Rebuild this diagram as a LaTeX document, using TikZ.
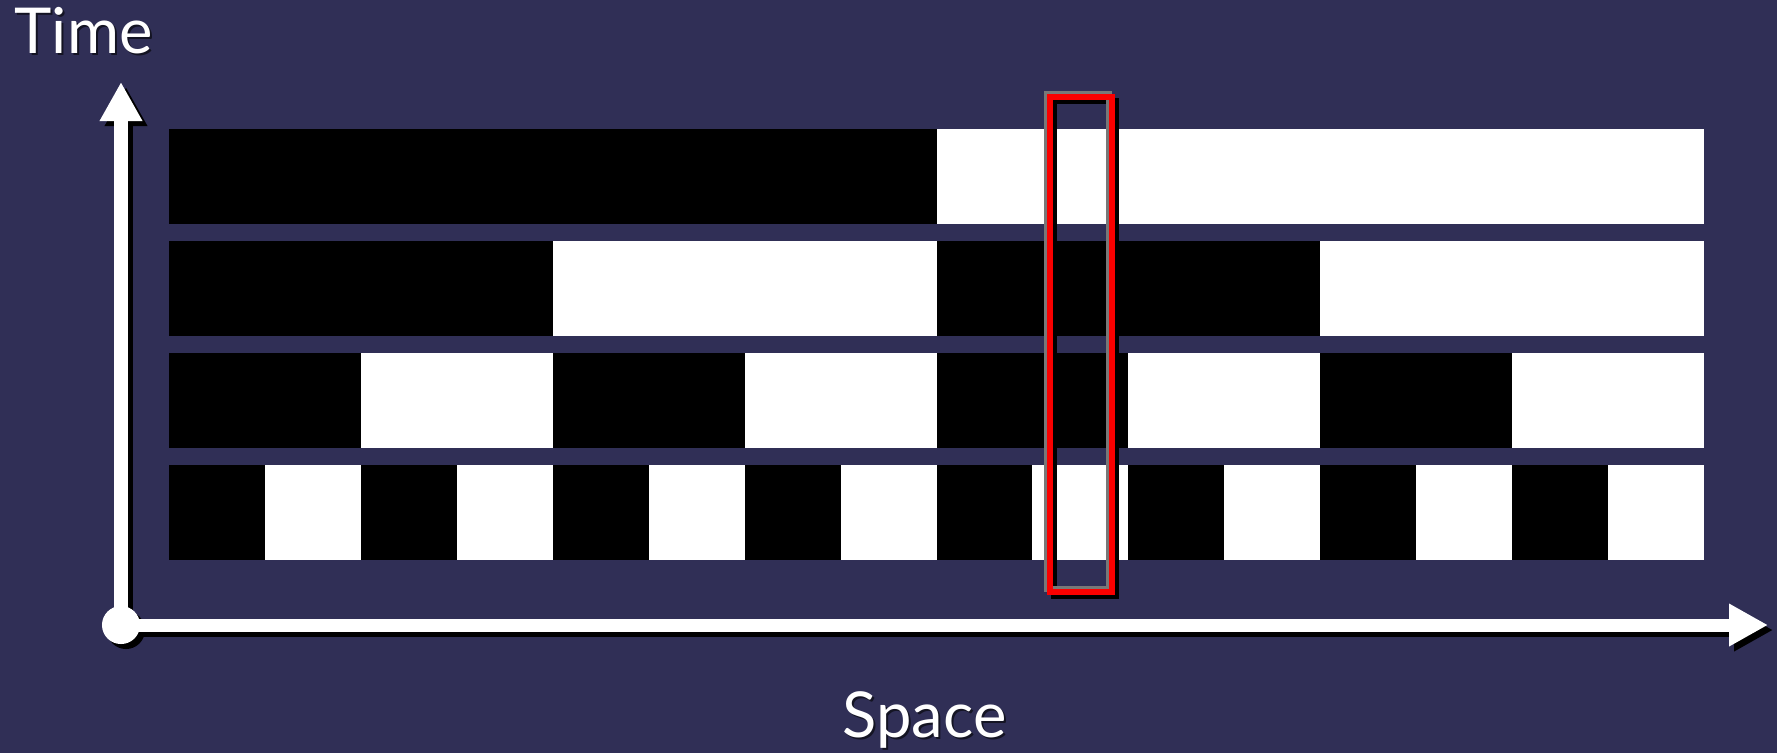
\documentclass[tikz,border=0pt]{standalone}
\usepackage{fontspec}
\setmainfont{Lato}
\usetikzlibrary{arrows.meta}
\definecolor{bg}{RGB}{48,47,86}
\definecolor{boxred}{RGB}{250,0,0}
\definecolor{boxgray}{RGB}{120,120,120}
\definecolor{txtshadow}{RGB}{20,20,35}
\tikzset{
  axisline/.style={line width=0.13cm, -{Triangle[length=0.39cm,width=0.40cm]}},
  lbl/.style={font=\fontsize{18}{20}\selectfont, inner sep=0pt, anchor=base west},
  selbox/.style={line width=0.065cm}
}
\begin{document}
\begin{tikzpicture}[x=0.01cm,y=-0.01cm]
\fill[bg] (0,0) rectangle (1777,753);
\useasboundingbox (0,0) rectangle (1777,753);
% bars
\foreach \r/\n in {0/2,1/4,2/8,3/16}{
  \pgfmathsetmacro\rt{129+112*\r}
  \pgfmathsetmacro\rb{\rt+95}
  \fill[white] (169,\rt) rectangle (1704,\rb);
  \pgfmathsetmacro\w{1535/\n}
  \pgfmathtruncatemacro\m{\n/2-1}
  \foreach \k in {0,...,\m}{
    \fill[black] ({169+2*\k*\w},\rt) rectangle ({169+(2*\k+1)*\w},\rb);
  }
}
% axes
\coordinate (O) at (121,625);
\coordinate (Y) at (121,82);
\coordinate (X) at (1768,625);
\coordinate (Os) at (126,630);
\coordinate (Ys) at (126,87);
\coordinate (Xs) at (1773,630);
\draw[axisline, black] (Os) -- (Ys);
\draw[axisline, black] (Os) -- (Xs);
\fill[black] (Os) circle[radius=0.19cm];
\draw[axisline, white] (O) -- (Y);
\draw[axisline, white] (O) -- (X);
\fill[white] (O) circle[radius=0.19cm];
% selection box
\draw[selbox, black] (1054,101) rectangle (1116,596);
\draw[selbox, boxgray] (1047,94) rectangle (1109,589);
\draw[selbox, boxred] (1050,97) rectangle (1112,592);
% labels
\node[lbl, txtshadow] (times) at (16,55) {Time};
\node[lbl, white] (time) at (14,53) {Time};
\node[lbl, txtshadow] (spaces) at (844,739) {Space};
\node[lbl, white] (space) at (842,737) {Space};
\end{tikzpicture}
\end{document}
